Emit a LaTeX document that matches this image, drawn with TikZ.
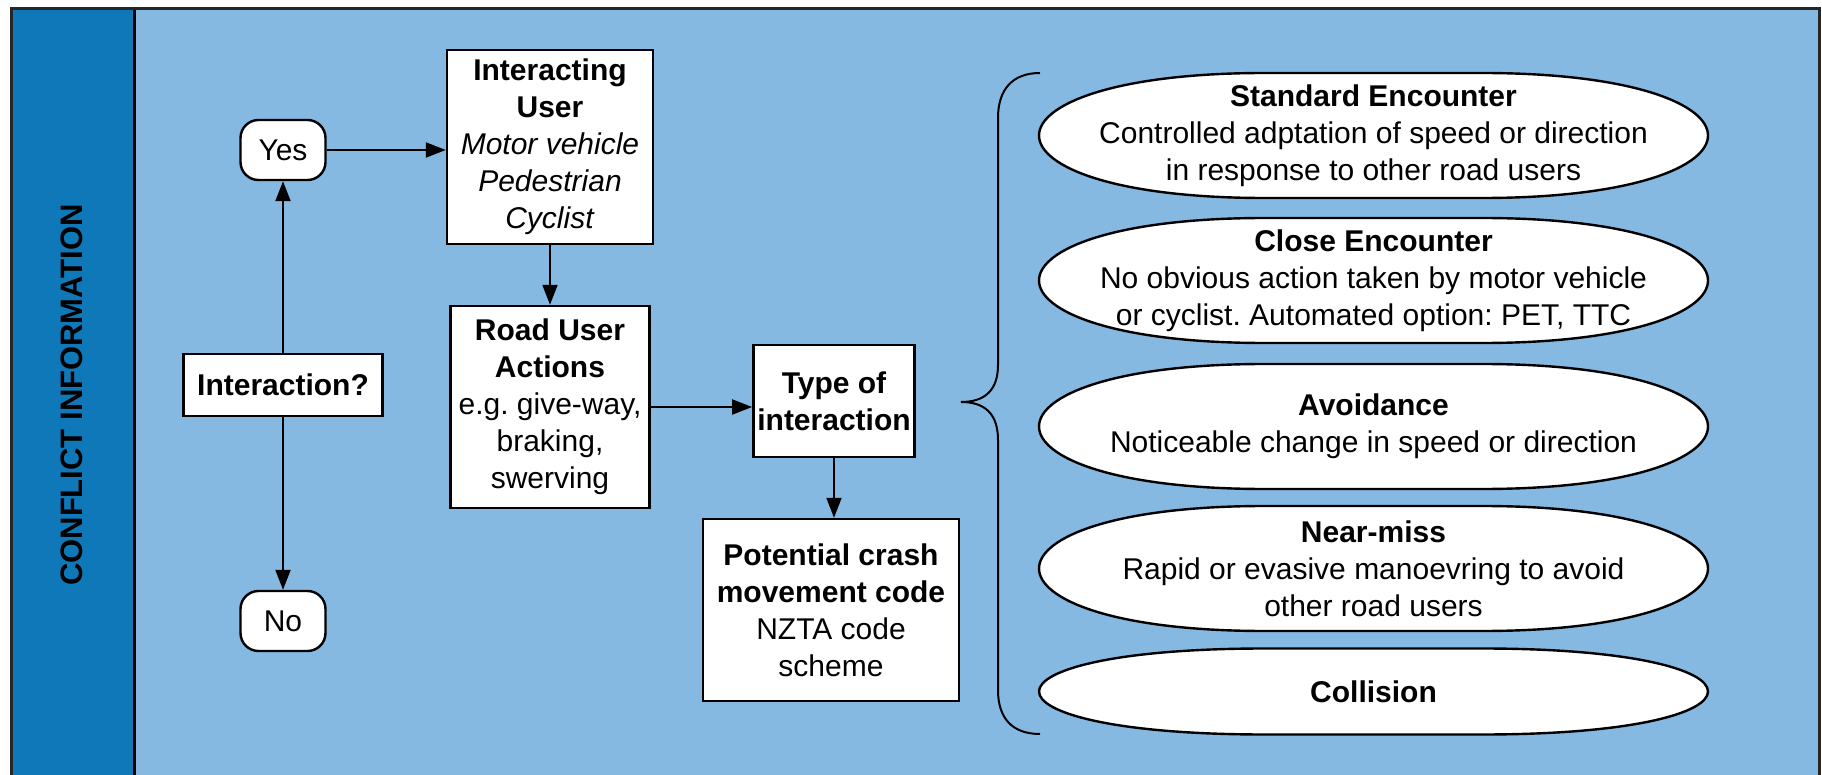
\documentclass[tikz,border=0pt]{standalone}
\usepackage{fontspec}
\setmainfont{Liberation Sans}
\usetikzlibrary{arrows.meta}
\definecolor{bandblue}{RGB}{14,120,184}
\definecolor{panelblue}{RGB}{133,185,226}
\frenchspacing
\tikzset{
  box/.style={draw, fill=white, line width=1.2pt, align=center, inner sep=2pt},
  answer/.style={draw, fill=white, line width=1.2pt, rounded corners=9pt, minimum width=42.5pt, minimum height=30pt},
  outline/.style={draw, fill=white, line width=1.2pt},
  outtext/.style={align=center, inner sep=0pt},
  flow/.style={-{Triangle[length=10pt,width=7.5pt]}, line width=1pt},
}
\begin{document}
\begin{tikzpicture}[x=0.5pt, y=-0.5pt, font=\fontsize{15}{18.5}\selectfont]
  \useasboundingbox (0,0) rectangle (1822,775);
  \fill[panelblue] (11,9) rectangle (1819,800);
  \fill[bandblue] (11,9) rectangle (134,800);
  \draw[line width=1.5pt] (134,9) -- (134,800);
  \draw[line width=1.5pt, black!85] (11,9) rectangle (1819,800);
  \node[rotate=90, font=\fontsize{15.5}{18}\selectfont\bfseries] (title) at (72,395) {CONFLICT INFORMATION};

  \node[box, minimum width=99.5pt, minimum height=31pt] (inter) at (283,385) {\textbf{Interaction?}};
  \node[answer] (yes) at (283,150) {Yes};
  \node[answer] (no) at (283,621) {No};
  \node[box, minimum width=103pt, minimum height=97pt] (user) at (550,147)
    {\textbf{Interacting}\\\textbf{User}\\\textit{Motor vehicle}\\\textit{Pedestrian}\\\textit{Cyclist}};
  \node[box, minimum width=99.5pt, minimum height=101pt] (actions) at (550,407)
    {\textbf{Road User}\\\textbf{Actions}\\e.g. give-way,\\braking,\\swerving};
  \node[box, minimum width=80.5pt, minimum height=56pt] (type) at (834,401)
    {\textbf{Type of}\\\textbf{interaction}};
  \node[box, minimum width=128pt, minimum height=91pt] (crash) at (831,610)
    {\textbf{Potential crash}\\\textbf{movement code}\\NZTA code\\scheme};

  \draw[flow] (inter) -- (yes);
  \draw[flow] (inter) -- (no);
  \draw[flow] (yes.east) -- (yes.east -| user.west);
  \draw[flow] (user) -- (actions);
  \draw[flow] (actions.east) -- (actions.east -| type.west);
  \draw[flow] (type.south) -- (type.south |- crash.north);

  \draw[line width=1pt] (1040,73) .. controls (1012,73) and (998,90) .. (998,118) -- (998,365)
    .. controls (998,390) and (985,402) .. (961,402)
    .. controls (985,402) and (998,414) .. (998,440) -- (998,690)
    .. controls (998,718) and (1012,734) .. (1040,734);

  \foreach \cy/\b in {135.5/62.5, 280.5/62.5, 426.5/62.5, 568.5/62.5, 691.5/43}
    \path[outline] (1039,\cy) .. controls (1039,\cy-0.5*\b) and (1115,\cy-\b) .. (1265,\cy-\b)
      -- (1482,\cy-\b) .. controls (1632,\cy-\b) and (1708,\cy-0.5*\b) .. (1708,\cy)
      .. controls (1708,\cy+0.5*\b) and (1632,\cy+\b) .. (1482,\cy+\b)
      -- (1265,\cy+\b) .. controls (1115,\cy+\b) and (1039,\cy+0.5*\b) .. cycle;

  \node[outtext] (std) at (1373.5,135.5) {\textbf{Standard Encounter}\\Controlled adptation of speed or direction\\in response to other road users};
  \node[outtext] (close) at (1373.5,280.5) {\textbf{Close Encounter}\\No obvious action taken by motor vehicle\\or cyclist. Automated option: PET, TTC};
  \node[outtext] (avoid) at (1373.5,426.5) {\textbf{Avoidance}\\Noticeable change in speed or direction};
  \node[outtext] (near) at (1373.5,568.5) {\textbf{Near-miss}\\Rapid or evasive manoevring to avoid\\other road users};
  \node[outtext] (coll) at (1373.5,691.5) {\textbf{Collision}};
\end{tikzpicture}
\end{document}
